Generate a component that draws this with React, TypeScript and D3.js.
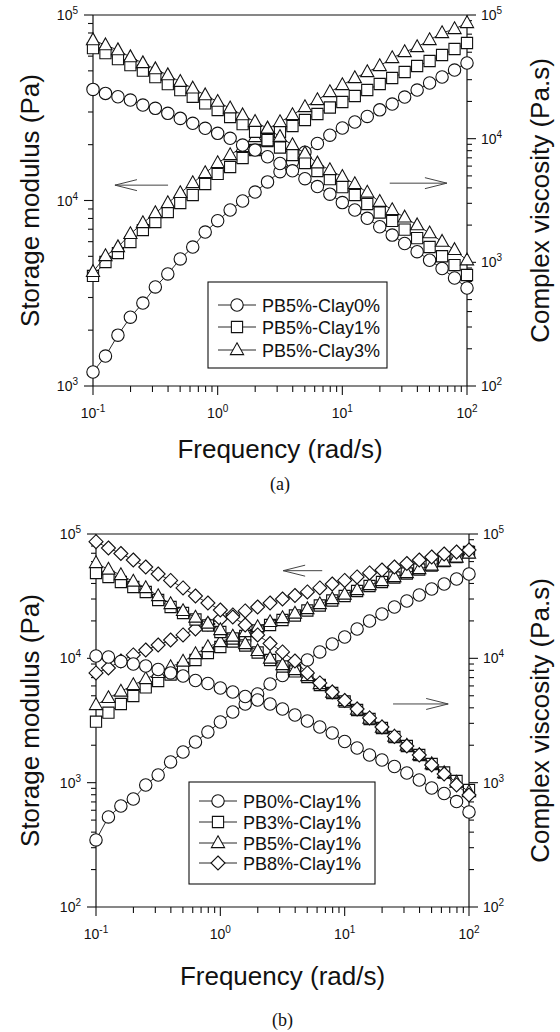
import React from 'react';
import * as d3 from 'd3';

// Frequencies (rad/s), 10 points per decade
const freq = [0.1, 0.1259, 0.1585, 0.1995, 0.2512, 0.3162, 0.3981, 0.5012, 0.631, 0.7943, 1, 1.259, 1.585, 1.995, 2.512, 3.162, 3.981, 5.012, 6.31, 7.943, 10, 12.59, 15.85, 19.95, 25.12, 31.62, 39.81, 50.12, 63.1, 79.43, 100];

// ---------- Panel (a) ----------
const namesA = ['PB5%-Clay0%', 'PB5%-Clay1%', 'PB5%-Clay3%'];
const shapesA = ['circle', 'square', 'triangle'];
const storageA_clay0 = [1190, 1450, 1880, 2350, 2800, 3420, 4020, 4840, 5610, 6760, 7780, 8890, 9940, 11100, 12600, 14300, 16200, 18200, 20300, 22500, 24600, 26500, 28400, 30800, 33100, 36100, 39400, 43000, 46300, 50500, 55100];
const storageA_clay1 = [3920, 4660, 5210, 5970, 6930, 7660, 8670, 9690, 10700, 12270, 13900, 15160, 16950, 18720, 20930, 23400, 25210, 27160, 29270, 31720, 33960, 36590, 39420, 42460, 45740, 49280, 53100, 56490, 60850, 65560, 70640];
const storageA_clay3 = [4120, 5020, 5610, 6600, 7560, 8560, 9690, 10980, 12430, 14070, 15930, 17590, 19430, 21990, 24290, 26500, 28900, 31920, 34820, 38460, 41940, 45740, 49280, 53100, 58650, 63170, 67210, 73330, 79980, 84050, 90550];
const viscA_clay0 = [25030, 23240, 21820, 20510, 18690, 17580, 16020, 14590, 13300, 12120, 11040, 10060, 8880, 8090, 7140, 6300, 5500, 4750, 4100, 3560, 3040, 2650, 2270, 1940, 1660, 1420, 1220, 1040, 891, 747, 620];
const viscA_clay1 = [54010, 49200, 44000, 39360, 35520, 31480, 27630, 24710, 21820, 19300, 17030, 14950, 13120, 11370, 9740, 8480, 7370, 6350, 5470, 4710, 4060, 3500, 2960, 2530, 2160, 1840, 1570, 1330, 1120, 951, 790];
const viscA_clay3 = [62690, 57100, 52040, 45670, 40860, 36530, 32670, 28840, 25510, 22500, 19900, 17600, 15510, 13690, 12120, 10360, 8880, 7610, 6320, 5580, 4920, 4300, 3670, 3090, 2650, 2310, 2000, 1720, 1470, 1260, 1040];

// ---------- Panel (b) ----------
const namesB = ['PB0%-Clay1%', 'PB3%-Clay1%', 'PB5%-Clay1%', 'PB8%-Clay1%'];
const shapesB = ['circle', 'square', 'triangle', 'diamond'];
const storageB_pb0 = [346, 530, 649, 739, 958, 1153, 1467, 1765, 2124, 2556, 3076, 3702, 4292, 5166, 6218, 7277, 8360, 9697, 11250, 13040, 14850, 17220, 19970, 22730, 25880, 28920, 32320, 36120, 39620, 43460, 47680];
const storageB_pb3 = [3093, 3654, 4292, 4980, 5830, 6573, 7413, 8359, 9697, 11040, 12340, 13660, 15130, 16750, 18540, 20340, 22110, 24250, 26610, 29190, 31720, 34800, 38180, 41110, 44690, 48120, 51830, 55800, 60660, 65330, 71670];
const storageB_pb5 = [4214, 4800, 5412, 6105, 6822, 7625, 8518, 9433, 10840, 12340, 13530, 14850, 16280, 17870, 19610, 21110, 22940, 24930, 27350, 30010, 32620, 35450, 38890, 41890, 45110, 48580, 52310, 55800, 60110, 64740, 69690];
const storageB_pb8 = [7625, 8360, 9520, 10640, 11670, 12800, 14040, 15410, 17220, 18890, 20720, 22320, 24040, 25880, 27870, 30010, 32020, 34170, 36800, 39620, 42280, 45110, 48580, 51340, 54280, 57910, 61800, 65330, 69060, 71670, 74370];
const viscB_pb0 = [10440, 10250, 9432, 9005, 8678, 8135, 7625, 7211, 6634, 6276, 5773, 5362, 4934, 4623, 4292, 3913, 3502, 3133, 2804, 2509, 2144, 1901, 1669, 1522, 1349, 1196, 1051, 906, 818, 705, 581];
const viscB_pb3 = [48580, 45110, 41110, 37490, 34170, 29460, 25880, 23150, 20530, 18370, 16280, 14440, 12680, 11140, 9697, 8600, 7841, 7077, 6105, 5264, 4497, 3841, 3252, 2752, 2330, 1972, 1669, 1413, 1207, 1031, 873];
const viscB_pb5 = [58450, 51830, 46810, 41500, 36800, 31720, 27350, 24040, 21310, 19070, 16900, 14990, 13040, 11460, 9970, 8842, 8058, 7211, 6218, 5313, 4539, 3877, 3282, 2777, 2352, 1990, 1669, 1413, 1196, 1003, 841];
const viscB_pb8 = [86700, 77180, 69690, 61800, 54280, 47680, 42280, 36800, 31720, 27870, 24470, 21500, 18540, 15410, 13160, 11250, 9520, 7625, 6335, 5362, 4580, 3913, 3313, 2804, 2352, 1972, 1669, 1387, 1174, 958, 796];

// Arrows in data units: [fromFreq, toFreq, value on left axis]
const arrowsA = [[0.40, 0.15, 12100], [24, 69, 12400]];
const arrowsB = [[6.6, 3.2, 50700], [24.5, 68, 4295]];

const SANS = 'Liberation Sans, Arial, Helvetica, sans-serif';

function markerPath(shape: string, cx: number, cy: number): string {
  if (shape === 'circle') {
    const r = 6.2;
    return `M${cx - r},${cy}a${r},${r} 0 1,0 ${2 * r},0a${r},${r} 0 1,0 ${-2 * r},0Z`;
  }
  if (shape === 'square') {
    const h = 5.6;
    return `M${cx - h},${cy - h}H${cx + h}V${cy + h}H${cx - h}Z`;
  }
  if (shape === 'triangle') {
    const w = 6.6, top = 7.2, bot = 4.6;
    return `M${cx},${cy - top}L${cx + w},${cy + bot}L${cx - w},${cy + bot}Z`;
  }
  const d = 7;
  return `M${cx},${cy - d}L${cx + d},${cy}L${cx},${cy + d}L${cx - d},${cy}Z`;
}

const isMajor = (t: number) => Math.abs(Math.log10(t) - Math.round(Math.log10(t))) < 1e-6;

function Pow({ x, y, e, anchor }: { x: number; y: number; e: number; anchor: string }) {
  return (
    <text x={x} y={y} textAnchor={anchor} fontSize={14} fontFamily={SANS} fill="#111">
      10<tspan fontSize={10} dy={-6}>{e}</tspan>
    </text>
  );
}

type PanelProps = {
  x0: number; x1: number; yTop: number; yBot: number;
  leftDomain: [number, number]; rightDomain: [number, number];
  storage: number[][]; visc: number[][]; names: string[]; shapes: string[];
  legend: { x: number; y: number; w: number; h: number; rowY: number[] };
  arrows: number[][]; caption: string; captionY: number; titleDy: number;
};

function Panel(p: PanelProps) {
  const x = d3.scaleLog().domain([0.1, 100]).range([p.x0, p.x1]);
  const yL = d3.scaleLog().domain(p.leftDomain).range([p.yBot, p.yTop]);
  const yR = d3.scaleLog().domain(p.rightDomain).range([p.yBot, p.yTop]);
  const midY = (p.yTop + p.yBot) / 2;
  const mkLine = (vals: number[], sc: any) =>
    d3.line<number>().x((_, i) => x(freq[i])).y((v) => sc(v))(vals) || '';

  const xTicks = x.ticks();
  const lTicks = yL.ticks();
  const rTicks = yR.ticks();

  const renderSeries = (vals: number[], sc: any, shape: string, key: string) => (
    <g key={key}>
      <path d={mkLine(vals, sc)} fill="none" stroke="#111" strokeWidth={0.9} />
      {vals.map((v, i) => (
        <path key={i} d={markerPath(shape, x(freq[i]), sc(v))} fill="#fff" stroke="#111" strokeWidth={1.1} />
      ))}
    </g>
  );

  return (
    <g>
      <line x1={p.x0} x2={p.x1} y1={p.yTop} y2={p.yTop} stroke="#111" strokeWidth={1.2} />
      <line x1={p.x0} x2={p.x1} y1={p.yBot} y2={p.yBot} stroke="#111" strokeWidth={1.2} />
      <line x1={p.x0} x2={p.x0} y1={p.yTop} y2={p.yBot} stroke="#111" strokeWidth={1.2} />
      <line x1={p.x1} x2={p.x1} y1={p.yTop} y2={p.yBot} stroke="#111" strokeWidth={1.2} />

      {xTicks.map((t, i) => (
        <line key={'xt' + i} x1={x(t)} x2={x(t)} y1={p.yBot} y2={p.yBot + (isMajor(t) ? 9 : 6)} stroke="#111" strokeWidth={1.1} />
      ))}
      {xTicks.filter(isMajor).map((t, i) => (
        <Pow key={'xl' + i} x={x(t)} y={p.yBot + 32} e={Math.round(Math.log10(t))} anchor="middle" />
      ))}
      {lTicks.map((t, i) => (
        <line key={'lt' + i} x1={p.x0} x2={p.x0 - (isMajor(t) ? 9 : 5)} y1={yL(t)} y2={yL(t)} stroke="#111" strokeWidth={1.1} />
      ))}
      {lTicks.filter(isMajor).map((t, i) => (
        <Pow key={'ll' + i} x={p.x0 - 15} y={yL(t) + 5} e={Math.round(Math.log10(t))} anchor="end" />
      ))}
      {rTicks.map((t, i) => (
        <line key={'rt' + i} x1={p.x1} x2={p.x1 + (isMajor(t) ? 9 : 5)} y1={yR(t)} y2={yR(t)} stroke="#111" strokeWidth={1.1} />
      ))}
      {rTicks.filter(isMajor).map((t, i) => (
        <Pow key={'rl' + i} x={p.x1 + 14} y={yR(t) + 5} e={Math.round(Math.log10(t))} anchor="start" />
      ))}

      <text transform={`translate(39,${midY}) rotate(-90)`} textAnchor="middle" fontSize={26} fontFamily={SANS} fill="#111">Storage modulus (Pa)</text>
      <text transform={`translate(549,${midY}) rotate(-90)`} textAnchor="middle" fontSize={26} fontFamily={SANS} fill="#111">Complex viscosity (Pa.s)</text>
      <text x={(p.x0 + p.x1) / 2} y={p.yBot + p.titleDy} textAnchor="middle" fontSize={26} fontFamily={SANS} fill="#111">Frequency (rad/s)</text>
      <text x={(p.x0 + p.x1) / 2} y={p.captionY} textAnchor="middle" fontSize={18} fontFamily="Liberation Serif, Times New Roman, serif" fill="#111">{p.caption}</text>

      {p.arrows.map((a, i) => {
        const xa = x(a[0]), xb = x(a[1]), yy = yL(a[2]);
        const dir = xb > xa ? 1 : -1;
        return (
          <g key={'ar' + i} stroke="#444" strokeWidth={1} fill="none">
            <line x1={xa} x2={xb} y1={yy} y2={yy} />
            <path d={`M${xb - dir * 22},${yy - 5.5}L${xb},${yy}L${xb - dir * 22},${yy + 5.5}`} />
          </g>
        );
      })}

      {p.storage.map((s, k) => renderSeries(s, yL, p.shapes[k], 'g' + k))}
      {p.visc.map((s, k) => renderSeries(s, yR, p.shapes[k], 'v' + k))}

      <rect x={p.legend.x} y={p.legend.y} width={p.legend.w} height={p.legend.h} fill="#fff" stroke="#111" strokeWidth={1.1} />
      {p.names.map((n, k) => {
        const ry = p.legend.rowY[k];
        const lx = p.legend.x + 10;
        return (
          <g key={'lg' + k}>
            <line x1={lx} x2={lx + 38} y1={ry} y2={ry} stroke="#111" strokeWidth={0.9} />
            <path d={markerPath(p.shapes[k], lx + 19, ry)} fill="#fff" stroke="#111" strokeWidth={1.1} />
            <text x={lx + 44} y={ry + 6.5} fontSize={18} fontFamily={SANS} fill="#111">{n}</text>
          </g>
        );
      })}
    </g>
  );
}

export default function App() {
  return (
    <svg width={560} height={1032} style={{ position: 'absolute', left: 0, top: 0, background: '#fff' }}>
      <rect x={0} y={0} width={560} height={1032} fill="#fff" />
      <Panel
        x0={93} x1={467} yTop={15} yBot={386}
        leftDomain={[1e3, 1e5]} rightDomain={[1e2, 1e5]}
        storage={[storageA_clay0, storageA_clay1, storageA_clay3]}
        visc={[viscA_clay0, viscA_clay1, viscA_clay3]}
        names={namesA} shapes={shapesA}
        legend={{ x: 208, y: 282, w: 179, h: 86, rowY: [305, 327, 350] }}
        arrows={arrowsA} caption="(a)" captionY={490} titleDy={72}
      />
      <Panel
        x0={96} x1={469} yTop={534} yBot={907}
        leftDomain={[1e2, 1e5]} rightDomain={[1e2, 1e5]}
        storage={[storageB_pb0, storageB_pb3, storageB_pb5, storageB_pb8]}
        visc={[viscB_pb0, viscB_pb3, viscB_pb5, viscB_pb8]}
        names={namesB} shapes={shapesB}
        legend={{ x: 189, y: 782, w: 186, h: 102, rowY: [801, 822, 843, 863] }}
        arrows={arrowsB} caption="(b)" captionY={1026} titleDy={78}
      />
    </svg>
  );
}
